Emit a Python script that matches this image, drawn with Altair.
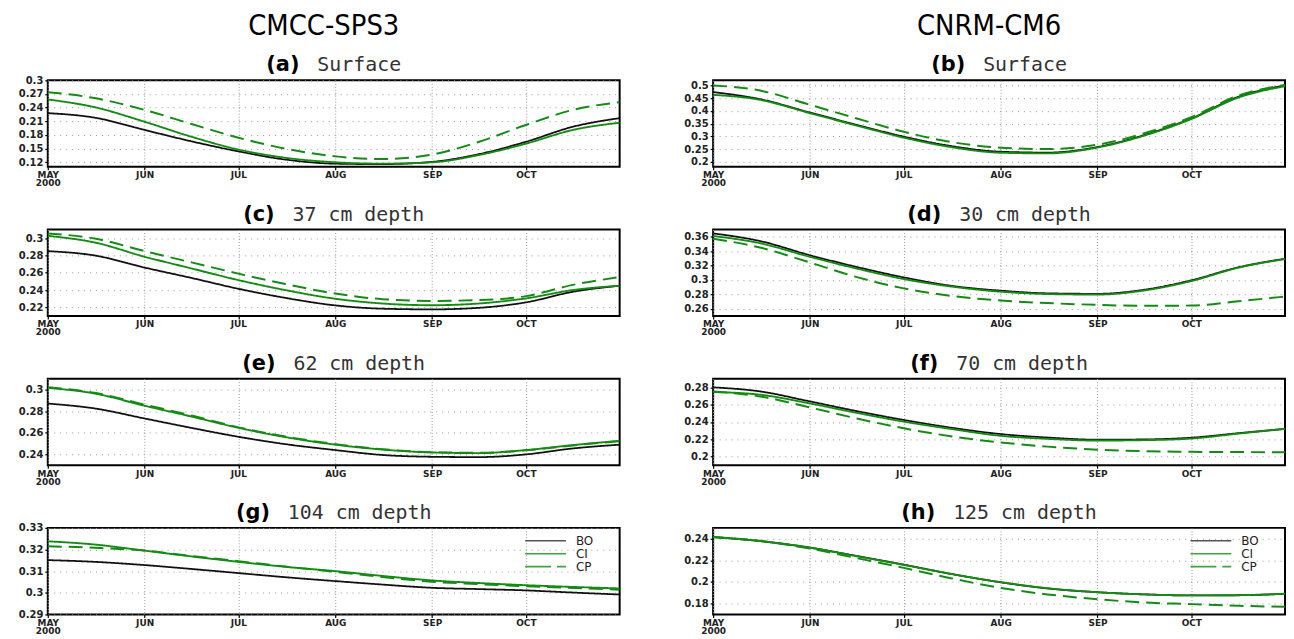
import altair as alt
import pandas as pd

dates = ["2000-05-01", "2000-05-16", "2000-06-01", "2000-06-16", "2000-07-01",
         "2000-07-16", "2000-08-01", "2000-08-16", "2000-09-01", "2000-09-16",
         "2000-10-01", "2000-10-16", "2000-10-31"]
series = ["BO", "CI", "CP"]
models = ["CMCC-SPS3", "CNRM-CM6"]

# ---- CMCC-SPS3 ----
a_bo = [0.228, 0.218, 0.191, 0.166, 0.144, 0.126, 0.117, 0.116, 0.121, 0.138, 0.165, 0.198, 0.217]
a_ci = [0.258, 0.241, 0.209, 0.176, 0.148, 0.130, 0.120, 0.117, 0.120, 0.136, 0.161, 0.191, 0.207]
a_cp = [0.274, 0.261, 0.235, 0.204, 0.174, 0.150, 0.133, 0.127, 0.137, 0.165, 0.202, 0.235, 0.252]

c_bo = [0.285, 0.280, 0.266, 0.254, 0.2415, 0.231, 0.2223, 0.2185, 0.2177, 0.2195, 0.2258, 0.238, 0.245]
c_ci = [0.3027, 0.295, 0.2785, 0.265, 0.2515, 0.240, 0.230, 0.2245, 0.2225, 0.2245, 0.2304, 0.240, 0.245]
c_cp = [0.3054, 0.2996, 0.285, 0.272, 0.259, 0.247, 0.236, 0.2295, 0.2275, 0.2285, 0.233, 0.246, 0.255]

e_bo = [0.287, 0.2825, 0.2732, 0.2645, 0.2563, 0.2495, 0.244, 0.2395, 0.2378, 0.2375, 0.240, 0.2455, 0.249]
e_ci = [0.3015, 0.2963, 0.285, 0.275, 0.2646, 0.256, 0.249, 0.2445, 0.2418, 0.2412, 0.244, 0.2486, 0.2526]
e_cp = [0.302, 0.297, 0.286, 0.276, 0.265, 0.2565, 0.2495, 0.2448, 0.242, 0.2415, 0.2438, 0.2483, 0.2522]

g_bo = [0.3151, 0.3143, 0.3128, 0.311, 0.3091, 0.3072, 0.3054, 0.3038, 0.3023, 0.3017, 0.3011, 0.3001, 0.2992]
g_ci = [0.3238, 0.3223, 0.3195, 0.3168, 0.3143, 0.312, 0.310, 0.3078, 0.3057, 0.3045, 0.3035, 0.3027, 0.302]
g_cp = [0.3215, 0.3208, 0.3195, 0.317, 0.3146, 0.3121, 0.3097, 0.3073, 0.3051, 0.304, 0.303, 0.3022, 0.3014]

# ---- CNRM-CM6 ----
b_bo = [0.4737, 0.446, 0.3934, 0.345, 0.2987, 0.262, 0.2395, 0.236, 0.258, 0.305, 0.37, 0.455, 0.50]
b_ci = [0.463, 0.4434, 0.391, 0.342, 0.2947, 0.258, 0.2355, 0.233, 0.256, 0.303, 0.368, 0.452, 0.497]
b_cp = [0.50, 0.48, 0.4237, 0.37, 0.318, 0.278, 0.2553, 0.25, 0.267, 0.312, 0.375, 0.46, 0.502]

d_bo = [0.3646, 0.354, 0.3343, 0.318, 0.3036, 0.292, 0.2852, 0.2815, 0.2808, 0.2865, 0.2995, 0.3175, 0.3295]
d_ci = [0.361, 0.351, 0.332, 0.3158, 0.3013, 0.291, 0.2838, 0.2805, 0.2798, 0.2855, 0.2985, 0.317, 0.329]
d_cp = [0.3573, 0.345, 0.3242, 0.304, 0.2884, 0.278, 0.2715, 0.268, 0.2655, 0.2642, 0.2645, 0.2705, 0.277]

f_bo = [0.280, 0.2753, 0.2637, 0.2525, 0.2423, 0.2335, 0.226, 0.222, 0.2195, 0.2198, 0.2218, 0.227, 0.232]
f_ci = [0.2746, 0.2715, 0.2614, 0.2505, 0.2404, 0.232, 0.224, 0.2205, 0.2185, 0.219, 0.2208, 0.2265, 0.232]
f_cp = [0.2753, 0.2695, 0.2567, 0.244, 0.2327, 0.2235, 0.2163, 0.2115, 0.208, 0.2063, 0.2055, 0.2052, 0.205]

h_bo = [0.2415, 0.2378, 0.2317, 0.224, 0.216, 0.2075, 0.1997, 0.194, 0.1905, 0.1885, 0.1875, 0.1877, 0.189]
h_ci = [0.2415, 0.2378, 0.2318, 0.2238, 0.2158, 0.2075, 0.1998, 0.1942, 0.1905, 0.1885, 0.1876, 0.1878, 0.1891]
h_cp = [0.2415, 0.238, 0.2308, 0.222, 0.213, 0.2035, 0.1945, 0.1885, 0.184, 0.181, 0.1795, 0.178, 0.177]

keys = ["(a)", "(b)", "(c)", "(d)", "(e)", "(f)", "(g)", "(h)"]
labels = ["Surface", "Surface", "37 cm depth", "30 cm depth",
          "62 cm depth", "70 cm depth", "104 cm depth", "125 cm depth"]
ydomains = [[0.11, 0.30], [0.18, 0.52], [0.21, 0.31], [0.25, 0.37],
            [0.23, 0.31], [0.19, 0.29], [0.29, 0.33], [0.17, 0.25]]
yticks = [[0.12, 0.15, 0.18, 0.21, 0.24, 0.27, 0.30],
          [0.2, 0.25, 0.3, 0.35, 0.4, 0.45, 0.5],
          [0.22, 0.24, 0.26, 0.28, 0.30],
          [0.26, 0.28, 0.30, 0.32, 0.34, 0.36],
          [0.24, 0.26, 0.28, 0.30],
          [0.20, 0.22, 0.24, 0.26, 0.28],
          [0.29, 0.30, 0.31, 0.32, 0.33],
          [0.18, 0.20, 0.22, 0.24]]
values = [(a_bo, a_ci, a_cp), (b_bo, b_ci, b_cp), (c_bo, c_ci, c_cp), (d_bo, d_ci, d_cp),
          (e_bo, e_ci, e_cp), (f_bo, f_ci, f_cp), (g_bo, g_ci, g_cp), (h_bo, h_ci, h_cp)]

W, H = 575, 87
GREEN = "#148c14"
PREFIX_FONT = "DejaVu Sans"
LABEL_FONT = "DejaVu Sans Mono"
HEADER_FONT = "DejaVu Sans Condensed, Liberation Sans Narrow, Roboto Condensed, sans-serif"
prefix_em = {"(a)": 1.589, "(b)": 1.630, "(c)": 1.507, "(d)": 1.630,
             "(e)": 1.592, "(f)": 1.349, "(g)": 1.630, "(h)": 1.626}

x_domain = [alt.DateTime(year=2000, month=5, date=1, utc=True),
            alt.DateTime(year=2000, month=10, date=31, utc=True)]
x_ticks = [alt.DateTime(year=2000, month=m, date=1, utc=True) for m in range(5, 11)]


def one_text(s, x, y, **kw):
    return alt.Chart(pd.DataFrame({"t": [s]})).mark_text(**kw).encode(
        x=alt.value(x), y=alt.value(y), text=alt.Text("t:N"))


def panel(i, header=None, legend=False):
    bo, ci, cp = values[i]
    df = pd.DataFrame({
        "date": dates * 3,
        "series": [s for s in series for _ in dates],
        "value": list(bo) + list(ci) + list(cp),
    })
    lines = alt.Chart(df).mark_line(interpolate="monotone", clip=True).encode(
        x=alt.X("date:T",
                scale=alt.Scale(type="utc", domain=x_domain),
                axis=alt.Axis(values=x_ticks, title=None, gridDash=[1, 2],
                              labelExpr="utcmonth(datum.value) == 4 ? ['MAY', '2000'] : upper(utcFormat(datum.value, '%b'))")),
        y=alt.Y("value:Q",
                scale=alt.Scale(domain=ydomains[i], nice=False, zero=False),
                axis=alt.Axis(values=yticks[i], format="~g", title=None, gridDash=[1, 5])),
        color=alt.Color("series:N", scale=alt.Scale(domain=series, range=["#111111", GREEN, GREEN]), legend=None),
        strokeDash=alt.StrokeDash("series:N", scale=alt.Scale(domain=series, range=[[1, 0], [1, 0], [14, 7]]), legend=None),
        strokeWidth=alt.StrokeWidth("series:N", scale=alt.Scale(domain=series, range=[1.8, 2.0, 2.0]), legend=None),
    )
    layers = [lines]
    key, lab = keys[i], labels[i]
    fs_p, fs_l, gap = 21, 20, 18
    wp = prefix_em[key] * fs_p
    wl = len(lab) * 0.602 * fs_l
    left = W / 2 - (wp + gap + wl) / 2
    layers.append(one_text(key, left + wp, -9, align="right", baseline="alphabetic",
                           font=PREFIX_FONT, fontSize=fs_p, fontWeight="bold", color="#000000"))
    layers.append(one_text(lab, left + wp + gap, -9, align="left", baseline="alphabetic",
                           font=LABEL_FONT, fontSize=fs_l, fontWeight="normal", color="#333333"))
    if header:
        layers.append(one_text(header, W / 2 - 10, -46, align="center", baseline="alphabetic",
                               font=HEADER_FONT, fontSize=29, color="#000000"))
    if legend:
        leg_col = ["#555555", "#3aa83a", "#3aa83a"]
        leg_dash = [[1, 0], [1, 0], [26, 6]]
        for k, s in enumerate(series):
            yy = 13 + 13 * k
            layers.append(
                alt.Chart(pd.DataFrame({"t": [s]})).mark_rule(
                    color=leg_col[k], strokeWidth=1.6, strokeDash=leg_dash[k]).encode(
                    x=alt.value(480), x2=alt.value(521), y=alt.value(yy)))
            layers.append(one_text(s, 531, yy, align="left", baseline="middle",
                                   font="DejaVu Sans", fontSize=12, color="#222222"))
    return alt.layer(*layers).properties(width=W, height=H)


panels = [
    panel(0, header=models[0]), panel(1, header=models[1]),
    panel(2), panel(3),
    panel(4), panel(5),
    panel(6, legend=True), panel(7, legend=True),
]

chart = alt.concat(
    *panels, columns=2, spacing={"row": 63, "column": 94}, bounds="flush"
).properties(
    padding={"left": 9, "top": 1, "right": 0, "bottom": 0}
).configure_view(
    stroke="#000000", strokeWidth=2
).configure_axis(
    grid=True, gridColor="#9a9a9a", gridWidth=1, domain=False,
    tickColor="#000000", tickSize=3, tickWidth=1.2,
    labelFont="DejaVu Sans", labelFontWeight="bold", labelFontSize=10,
    labelColor="#222222", labelFlush=False, labelOverlap=False, labelPadding=2,
).configure_axisX(
    labelFontSize=9, labelLineHeight=8, labelPadding=1,
)

chart.save("out.html", embed_options={"renderer": "svg", "actions": False})
